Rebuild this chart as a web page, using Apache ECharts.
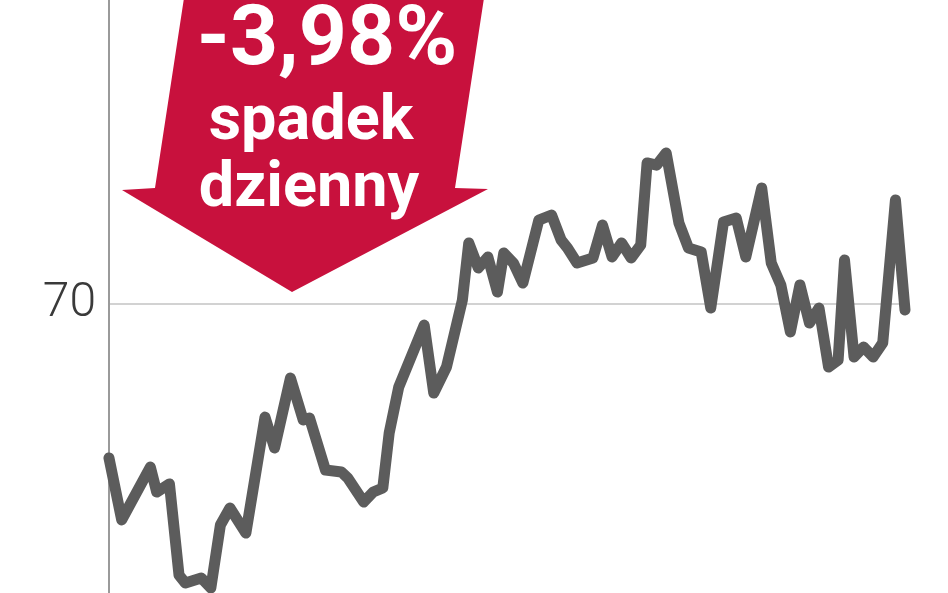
<!DOCTYPE html>
<html>
<head>
<meta charset="utf-8">
<script src="https://cdn.jsdelivr.net/npm/echarts@6/dist/echarts.min.js"></script>
<style>
html,body{margin:0;padding:0;background:#fff;}
#c{width:948px;height:593px;}
</style>
</head>
<body>
<div id="c"></div>
<script>
// trading day index (x) and price (y)
const days = [0,4,13,15,19,22,24,29,32,35,38,43,49,52,57,61,63,68,73,75,80,83,86,88,91,99,102,106,111,113,116,119,122,124,127,130,135,139,142,144,147,152,155,158,161,164,167,169,172,175,179,182,186,189,193,197,200,205,208,211,214,217,220,223,226,229,231,234,237,240,243,247,250];
const prices = [62.01,58.79,61.54,60.24,60.66,55.93,55.52,55.78,55.26,58.53,59.41,58.11,64.13,62.53,66.16,63.98,64.08,61.38,61.28,60.97,59.72,60.24,60.45,63.30,65.69,68.91,65.38,66.73,70.21,73.17,71.87,72.44,70.62,72.65,72.13,71.09,74.36,74.62,73.32,72.91,72.13,72.39,74.10,72.44,73.17,72.39,73.06,77.32,77.21,77.84,74.20,72.91,72.70,69.79,74.26,74.46,72.44,76.02,72.13,70.99,68.55,70.99,69.01,69.79,66.73,67.09,72.28,67.25,67.77,67.25,67.98,75.40,69.69];
const yTickLabels = ['70'];
const badgeLines = ['-3,98%', 'spadek', 'dzienny'];

const seriesData = days.map((d, i) => [d, prices[i]]);

const chart = echarts.init(document.getElementById('c'), null, {renderer: 'canvas'});
chart.setOption({
  animation: false,
  backgroundColor: '#ffffff',
  grid: {left: 108, right: 43, top: 0, bottom: 0, containLabel: false},
  xAxis: {
    type: 'value', min: -0.3, max: 250,
    axisLine: {show: false}, axisTick: {show: false},
    axisLabel: {show: false}, splitLine: {show: false}
  },
  yAxis: {
    type: 'value', min: 55, max: 85.78, interval: 15,
    axisLine: {show: true, lineStyle: {color: '#9a9a9a', width: 2}},
    axisTick: {show: false},
    axisLabel: {
      margin: 12, color: '#3a3a3a', fontSize: 48, fontWeight: 300,
      fontFamily: 'Roboto',
      formatter: v => yTickLabels.indexOf(String(v)) >= 0 ? String(v) : ''
    },
    splitLine: {show: true, lineStyle: {color: ['rgba(0,0,0,0)', '#d2d2d2', 'rgba(0,0,0,0)', 'rgba(0,0,0,0)'], width: 2}}
  },
  series: [{
    type: 'line',
    data: seriesData,
    showSymbol: false,
    symbol: 'none',
    lineStyle: {color: '#5c5c5c', width: 11, cap: 'round', join: 'round'},
    clip: false
  }],
  graphic: [
    {
      type: 'polygon', z: 10,
      shape: {points: [[184,-2],[155,188],[122,190],[292,292],[488,189],[455,188],[484,-2]]},
      style: {fill: '#c8113d'}
    },
    {
      type: 'text', z: 11, x: 327, y: 43,
      style: {text: badgeLines[0], fill: '#ffffff', font: 'bold 84px Roboto', align: 'center', verticalAlign: 'middle'}
    },
    {
      type: 'text', z: 11, x: 311, y: 123,
      style: {text: badgeLines[1], fill: '#ffffff', font: 'bold 63px Roboto', align: 'center', verticalAlign: 'middle'}
    },
    {
      type: 'text', z: 11, x: 309, y: 190,
      style: {text: badgeLines[2], fill: '#ffffff', font: 'bold 63px Roboto', align: 'center', verticalAlign: 'middle'}
    }
  ]
});
</script>
</body>
</html>
